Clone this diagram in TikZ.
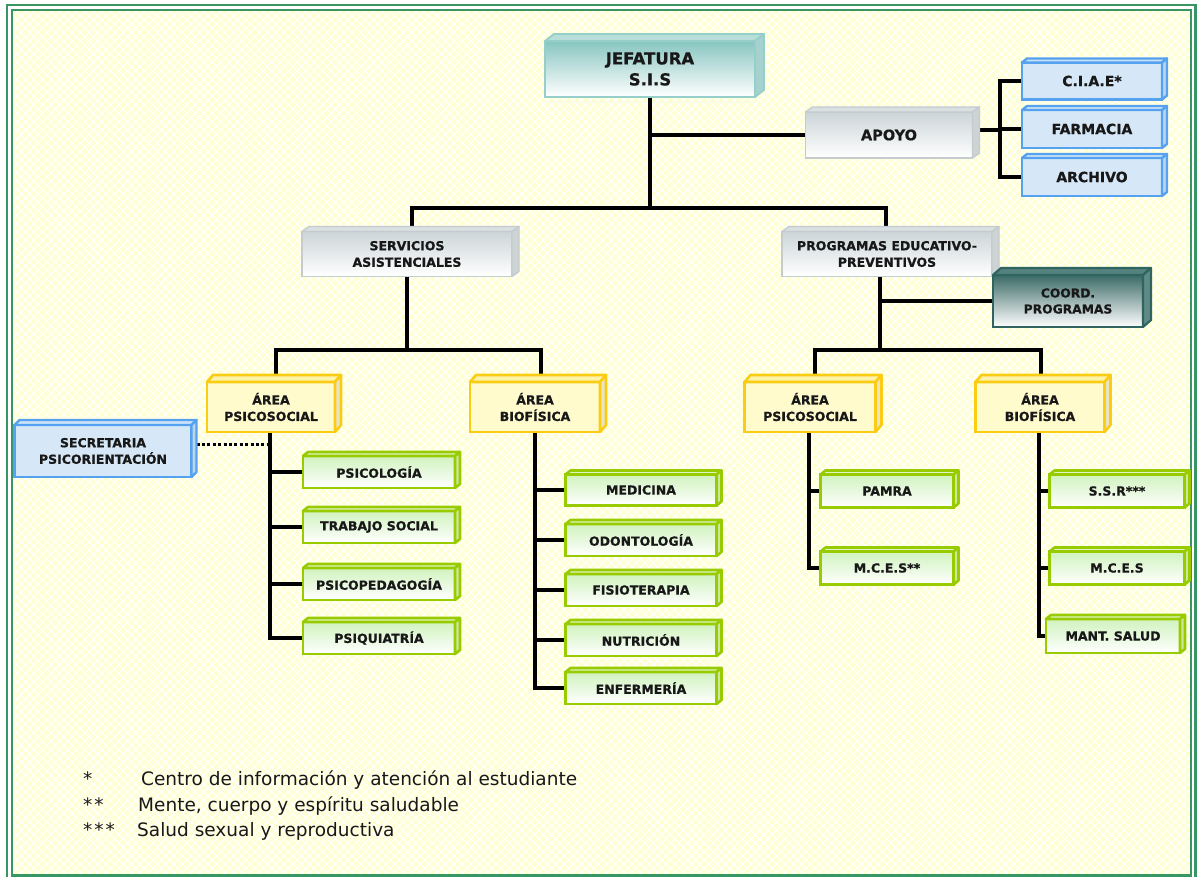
\documentclass[tikz,border=0pt]{standalone}
\usepackage{fontspec}
\setmainfont{DejaVu Sans}[BoldFeatures={FakeBold=0.7}]
\usetikzlibrary{calc,patterns.meta}
\pgfdeclarelayer{bg}
\pgfdeclarelayer{lines}
\pgfsetlayers{bg,lines,main}

\definecolor{frame}{RGB}{56,150,100}
\definecolor{paper}{RGB}{255,255,212}
\definecolor{ink}{RGB}{24,24,24}
\definecolor{tealtop}{RGB}{136,198,193}
\definecolor{tealedge}{RGB}{150,206,201}
\definecolor{tealface}{RGB}{184,222,218}
\definecolor{tealside}{RGB}{165,210,206}
\definecolor{greytop}{RGB}{204,213,216}
\definecolor{greyedge}{RGB}{196,204,207}
\definecolor{greyface}{RGB}{218,224,226}
\definecolor{greyside}{RGB}{206,211,212}
\definecolor{bluefill}{RGB}{214,232,248}
\definecolor{blueedge}{RGB}{84,162,240}
\definecolor{blueface}{RGB}{204,225,248}
\definecolor{blueside}{RGB}{188,212,236}
\definecolor{darktop}{RGB}{58,106,102}
\definecolor{darkedge}{RGB}{48,100,96}
\definecolor{darkface}{RGB}{84,130,126}
\definecolor{darkside}{RGB}{96,138,134}
\definecolor{yelfill}{RGB}{255,251,205}
\definecolor{yeledge}{RGB}{250,204,20}
\definecolor{yelface}{RGB}{255,243,170}
\definecolor{yelside}{RGB}{232,228,196}
\definecolor{grntop}{RGB}{208,243,190}
\definecolor{grnedge}{RGB}{153,204,0}
\definecolor{grnface}{RGB}{222,245,196}
\definecolor{grnside}{RGB}{205,230,160}

% top and right faces of a 3D box around an existing node
\newcommand\cubefaces[5]{%
  \filldraw[#4] (#1.north west) -- ++(#2,-#3) -- ($(#1.north east)+(#2,-#3)$) -- (#1.north east) -- cycle;
  \filldraw[#5] (#1.north east) -- ++(#2,-#3) -- ($(#1.south east)+(#2,-#3)$) -- (#1.south east) -- cycle;
}
% name, kind, x, y, width, height, depth x, depth y, text
\newcommand\obox[9]{%
  \node[#2box, minimum width=#5pt, minimum height=#6pt] (#1) at (#3,#4) {#9};
  \cubefaces{#1}{#7}{#8}{#2top}{#2side}%
}

\begin{document}
\begin{tikzpicture}[x=1pt,y=-1pt,
  box/.style={draw, inner sep=0pt, outer sep=0pt, align=center, text=ink},
  lbl/.style={font=\fontsize{12.5}{16.5}\selectfont\bfseries},
  jefbox/.style={box, top color=tealtop, bottom color=white, draw=tealedge, line width=1.8pt, font=\fontsize{16.5}{21}\selectfont\bfseries},
  jeftop/.style={fill=tealface, draw=tealedge, line width=1.8pt, line join=round},
  jefside/.style={fill=tealside, draw=tealedge, line width=1.8pt, line join=round},
  greybox/.style={box, top color=greytop, bottom color=white, draw=greyedge, line width=1.4pt, lbl},
  greytop/.style={fill=greyface, draw=greyedge, line width=1.4pt, line join=round},
  greyside/.style={fill=greyside, draw=greyedge, line width=1.4pt, line join=round},
  apoyobox/.style={greybox, font=\fontsize{14.5}{17}\selectfont\bfseries},
  apoyotop/.style={greytop},
  apoyoside/.style={greyside},
  bluebox/.style={box, fill=bluefill, draw=blueedge, line width=2.4pt, font=\fontsize{14}{17}\selectfont\bfseries},
  bluetop/.style={fill=blueface, draw=blueedge, line width=2.4pt, line join=round},
  blueside/.style={fill=blueside, draw=blueedge, line width=2.4pt, line join=round},
  secrbox/.style={bluebox, lbl},
  secrtop/.style={bluetop},
  secrside/.style={blueside},
  darkbox/.style={box, top color=darktop, bottom color=white, draw=darkedge, line width=2.2pt, font=\fontsize{12.3}{16}\selectfont\bfseries},
  darktop/.style={fill=darkface, draw=darkedge, line width=2.2pt, line join=round},
  darkside/.style={fill=darkside, draw=darkedge, line width=2.2pt, line join=round},
  yelbox/.style={box, fill=yelfill, draw=yeledge, line width=2.6pt, lbl},
  yeltop/.style={fill=yelface, draw=yeledge, line width=2.6pt, line join=round},
  yelside/.style={fill=yelside, draw=yeledge, line width=2.6pt, line join=round},
  grnbox/.style={box, top color=grntop, bottom color=white, draw=grnedge, line width=2.6pt, lbl},
  grntop/.style={fill=grnface, draw=grnedge, line width=2.6pt, line join=round},
  grnside/.style={fill=grnside, draw=grnedge, line width=2.6pt, line join=round},
  conn/.style={draw=black, line width=3.4pt, line join=miter},
  dotline/.style={draw=black, line width=3pt, dash pattern=on 3pt off 2.4pt},
  note/.style={anchor=base west, inner sep=0pt, text=ink, font=\fontsize{18.5}{22}\selectfont}
]
\useasboundingbox (0,0) rectangle (1197,877);

% page, patterned paper and double frame
\begin{pgfonlayer}{bg}
  \fill[white] (0,0) rectangle (1197,877);
  \fill[paper] (12,10) rectangle (1191,875.5);
  \fill[pattern={Lines[angle=45,distance=6pt,line width=1.1pt]}, pattern color=white] (12,10) rectangle (1191,875.5);
  \fill[pattern={Lines[angle=-45,distance=6pt,line width=1.1pt]}, pattern color=white] (12,10) rectangle (1191,875.5);
  \draw[frame, line width=2.6pt] (7,5) rectangle (1195.5,890);
  \draw[frame, line width=2.6pt] (12,10) rectangle (1191,875.5);
\end{pgfonlayer}

% boxes
\obox{jef}{jef}{650}{69}{210}{56}{9}{7}{JEFATURA\\S.I.S}
\obox{apoyo}{apoyo}{889}{135}{167}{46}{7}{5}{APOYO}
\obox{ciae}{blue}{1092}{81}{140}{37}{5}{4}{C.I.A.E*}
\obox{farm}{blue}{1092}{129}{140}{38}{5}{4}{FARMACIA}
\obox{arch}{blue}{1092}{177}{140}{38}{5}{4}{ARCHIVO}
\obox{serv}{grey}{407}{254}{210}{45}{7}{5}{SERVICIOS\\ASISTENCIALES}
\obox{progr}{grey}{887}{254}{210}{45}{7}{5}{PROGRAMAS EDUCATIVO-\\PREVENTIVOS}
\obox{coord}{dark}{1068}{301}{150}{52}{8}{7}{COORD.\\PROGRAMAS}

\obox{apsL}{yel}{271}{407}{128}{50}{6}{7}{ÁREA\\PSICOSOCIAL}
\obox{abfL}{yel}{535}{407}{130}{50}{6}{7}{ÁREA\\BIOFÍSICA}
\obox{apsR}{yel}{810}{407}{131}{50}{6}{7}{ÁREA\\PSICOSOCIAL}
\obox{abfR}{yel}{1040}{407}{129}{50}{6}{7}{ÁREA\\BIOFÍSICA}
\obox{secr}{secr}{103}{451}{177}{52}{5}{5}{SECRETARIA\\PSICORIENTACIÓN}

\obox{psicol}{grn}{379}{472}{152}{32}{5}{4}{PSICOLOGÍA}
\obox{trab}{grn}{379}{527}{152}{32}{5}{4}{TRABAJO SOCIAL}
\obox{psiped}{grn}{379}{584}{152}{32}{5}{4}{PSICOPEDAGOGÍA}
\obox{psiq}{grn}{379}{638}{152}{32}{5}{4}{PSIQUIATRÍA}

\obox{medi}{grn}{641}{490}{151}{31}{5}{4}{MEDICINA}
\obox{odon}{grn}{641}{540}{151}{32}{5}{4}{ODONTOLOGÍA}
\obox{fisio}{grn}{641}{590}{151}{32}{5}{4}{FISIOTERAPIA}
\obox{nutri}{grn}{641}{640}{151}{32}{5}{4}{NUTRICIÓN}
\obox{enfer}{grn}{641}{688}{151}{32}{5}{4}{ENFERMERÍA}

\obox{pamra}{grn}{887}{491}{133}{33}{5}{4}{PAMRA}
\obox{mcesA}{grn}{887}{568}{133}{33}{5}{4}{M.C.E.S**}
\obox{ssr}{grn}{1117}{491}{135}{33}{5}{4}{S.S.R***}
\obox{mcesB}{grn}{1117}{568}{135}{33}{5}{4}{M.C.E.S}
\obox{mant}{grn}{1113}{636}{134}{34}{5}{4}{MANT. SALUD}

% junctions and trunks
\coordinate (split) at (650,208);
\coordinate (abus) at (1000,130);
\coordinate (sbus) at (407,350);
\coordinate (pbus) at (880,350);
\coordinate (tL) at ([xshift=-1pt]apsL.south);
\coordinate (tB) at (abfL.south);
\coordinate (tPR) at ([xshift=-1pt]apsR.south);
\coordinate (tBR) at ([xshift=-1pt]abfR.south);
\coordinate (sd) at ([xshift=5pt,yshift=7pt]secr.east);

% connectors
\begin{pgfonlayer}{lines}
  \draw[conn] (jef.south) -- (split);
  \draw[conn] (jef.south |- apoyo.west) -- (apoyo.west);
  \draw[conn] ([xshift=5pt]serv.north) |- (split) -| ([xshift=-1pt]progr.north);

  \draw[conn] ([yshift=5pt]apoyo.east) -- (abus);
  \draw[conn] (ciae.west) -| (abus);
  \draw[conn] (arch.west) -| (abus);
  \draw[conn] (farm.west) -- (farm.west -| abus);

  \draw[conn] (serv.south) -- (sbus);
  \draw[conn] ([xshift=5pt]apsL.north) |- (sbus) -| ([xshift=6pt]abfL.north);

  \draw[conn] ([xshift=-7pt]progr.south) -- (pbus);
  \draw[conn] ([xshift=-7pt]progr.south |- coord.west) -- (coord.west);
  \draw[conn] ([xshift=5pt]apsR.north) |- (pbus) -| ([xshift=1pt]abfR.north);

  \draw[conn] (tL) |- (psiq.west);
  \draw[conn] (psicol.west) -- (psicol.west -| tL);
  \draw[conn] (trab.west) -- (trab.west -| tL);
  \draw[conn] (psiped.west) -- (psiped.west -| tL);
  \draw[dotline] (sd) -- (sd -| tL);

  \draw[conn] (tB) |- (enfer.west);
  \draw[conn] (medi.west) -- (medi.west -| tB);
  \draw[conn] (odon.west) -- (odon.west -| tB);
  \draw[conn] (fisio.west) -- (fisio.west -| tB);
  \draw[conn] (nutri.west) -- (nutri.west -| tB);

  \draw[conn] (tPR) |- (mcesA.west);
  \draw[conn] (pamra.west) -- (pamra.west -| tPR);

  \draw[conn] (tBR) |- (mant.west);
  \draw[conn] (ssr.west) -- (ssr.west -| tBR);
  \draw[conn] (mcesB.west) -- (mcesB.west -| tBR);
\end{pgfonlayer}

% footnotes
\node[note] (n1s) at (83,785) {*};
\node[note] (n1) at (141,785) {Centro de información y atención al estudiante};
\node[note] (n2s) at (83,811) {*\kern2pt*};
\node[note] (n2) at (138,811) {Mente, cuerpo y espíritu saludable};
\node[note] (n3s) at (83,836) {*\kern2pt*\kern2pt*};
\node[note] (n3) at (137,836) {Salud sexual y reproductiva};
\end{tikzpicture}
\end{document}
